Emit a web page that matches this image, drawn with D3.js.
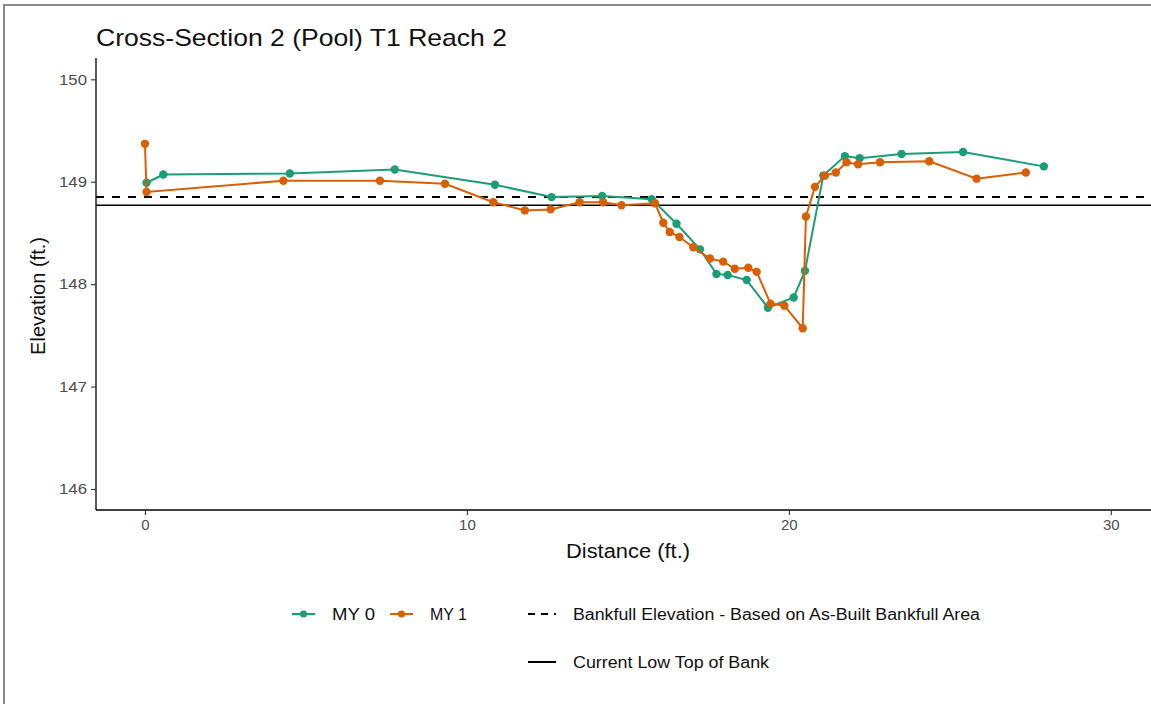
<!DOCTYPE html>
<html>
<head>
<meta charset="utf-8">
<script src="https://cdn.jsdelivr.net/npm/d3@7"></script>
<style>
  html, body { margin: 0; padding: 0; background: #fff; }
  svg { display: block; font-family: "Liberation Sans", Arial, Helvetica, sans-serif; }
</style>
</head>
<body>
<svg id="chart" width="1151" height="704"></svg>
<script>
// Survey data: station distance (ft) and elevation (ft)
const my0Distance = [0.05, 0.57, 4.5, 7.76, 10.87, 12.63, 14.2, 15.74, 16.51, 17.24, 17.75, 18.1, 18.69, 19.35, 20.15, 20.5, 21.07, 21.74, 22.2, 23.5, 25.41, 27.92];
const my0Elevation = [148.99, 149.07, 149.08, 149.12, 148.97, 148.85, 148.86, 148.83, 148.59, 148.34, 148.1, 148.09, 148.04, 147.77, 147.87, 148.13, 149.06, 149.25, 149.23, 149.27, 149.29, 149.15];

const my1Distance = [0, 0.05, 4.3, 7.3, 9.32, 10.82, 11.8, 12.6, 13.5, 14.23, 14.8, 15.84, 16.1, 16.3, 16.6, 17.03, 17.55, 17.96, 18.32, 18.74, 19.0, 19.43, 19.86, 20.43, 20.53, 20.81, 21.12, 21.46, 21.79, 22.15, 22.83, 24.36, 25.83, 27.36];
const my1Elevation = [149.37, 148.9, 149.01, 149.01, 148.98, 148.8, 148.72, 148.73, 148.8, 148.8, 148.77, 148.79, 148.6, 148.51, 148.46, 148.36, 148.25, 148.22, 148.15, 148.16, 148.12, 147.81, 147.79, 147.57, 148.66, 148.95, 149.06, 149.09, 149.19, 149.17, 149.19, 149.2, 149.03, 149.09];

const bankfullElevation = 148.85;
const lowTopOfBank = 148.77;

const seriesNames = ["MY 0", "MY 1"];
const seriesColors = ["#1b9e77", "#d95f02"];
const refLineNames = ["Bankfull Elevation - Based on As-Built Bankfull Area", "Current Low Top of Bank"];

const xTicks = [0, 10, 20, 30];
const yTicks = [146, 147, 148, 149, 150];
const xLimits = [-1.52, 31.9];
const yLimits = [145.795, 150.208];

const titleText = "Cross-Section 2 (Pool) T1 Reach 2";
const xTitle = "Distance (ft.)";
const yTitle = "Elevation (ft.)";

const series = [
  { name: seriesNames[0], color: seriesColors[0], pts: my0Distance.map((d, i) => ({ x: d, y: my0Elevation[i] })) },
  { name: seriesNames[1], color: seriesColors[1], pts: my1Distance.map((d, i) => ({ x: d, y: my1Elevation[i] })) }
];

const svg = d3.select("#chart");

// outer frame
svg.append("rect").attr("x", 4).attr("y", 5).attr("width", 1160).attr("height", 710)
  .attr("fill", "#fff").attr("stroke", "#8a8a8a").attr("stroke-width", 2);

const panel = { left: 96, top: 58, right: 1172, bottom: 510 };

const x = d3.scaleLinear().domain(xLimits).range([panel.left, panel.right]);
const y = d3.scaleLinear().domain(yLimits).range([panel.bottom, panel.top]);

// title
svg.append("text").attr("x", 96).attr("y", 46)
  .attr("font-size", 24).attr("textLength", 411).attr("lengthAdjust", "spacingAndGlyphs")
  .attr("fill", "#111").text(titleText);

// axes
const xAxis = svg.append("g").attr("transform", `translate(0,${panel.bottom})`)
  .call(d3.axisBottom(x).tickValues(xTicks).tickSize(5).tickPadding(4).tickFormat(d3.format("d")));
const yAxis = svg.append("g").attr("transform", `translate(${panel.left},0)`)
  .call(d3.axisLeft(y).tickValues(yTicks).tickSize(5).tickPadding(4).tickFormat(d3.format("d")));

[xAxis, yAxis].forEach(g => {
  g.select(".domain").attr("stroke", "#000").attr("stroke-width", 1.3);
  g.selectAll(".tick line").attr("stroke", "#333").attr("stroke-width", 1.1);
  g.selectAll(".tick text").attr("fill", "#4d4d4d").attr("font-size", 15)
    .attr("font-family", "Liberation Sans, Arial, sans-serif");
});
// stretch y-axis tick labels slightly wider
yAxis.selectAll(".tick text").attr("textLength", 28).attr("lengthAdjust", "spacingAndGlyphs");
// x-axis domain line extends along panel range
xAxis.select(".domain").attr("d", `M${panel.left},0H${panel.right}`);
yAxis.select(".domain").attr("d", `M0,${panel.top}V${panel.bottom}`);

// axis titles
svg.append("text").attr("x", 628).attr("y", 558).attr("text-anchor", "middle")
  .attr("font-size", 20).attr("textLength", 124).attr("lengthAdjust", "spacingAndGlyphs")
  .attr("fill", "#111").text(xTitle);
svg.append("text").attr("transform", `translate(45,${(237 + 355) / 2}) rotate(-90)`)
  .attr("text-anchor", "middle").attr("font-size", 20).attr("fill", "#111").text(yTitle);

// reference lines
const plot = svg.append("g");
plot.append("line").attr("x1", panel.left).attr("x2", panel.right)
  .attr("y1", y(bankfullElevation)).attr("y2", y(bankfullElevation))
  .attr("stroke", "#000").attr("stroke-width", 2).attr("stroke-dasharray", "8,8");
plot.append("line").attr("x1", panel.left).attr("x2", panel.right)
  .attr("y1", y(lowTopOfBank)).attr("y2", y(lowTopOfBank))
  .attr("stroke", "#000").attr("stroke-width", 1.6);

// series lines and points
const line = d3.line().x(d => x(d.x)).y(d => y(d.y));
series.forEach(s => {
  plot.append("path").datum(s.pts).attr("d", line)
    .attr("fill", "none").attr("stroke", s.color).attr("stroke-width", 2);
  plot.selectAll(null).data(s.pts).enter().append("circle")
    .attr("cx", d => x(d.x)).attr("cy", d => y(d.y)).attr("r", 4.2)
    .attr("fill", s.color);
});

// legend
const legend = svg.append("g");
const legendItems = [
  { x: 292, y: 614, color: seriesColors[0], label: seriesNames[0], lw: 43, pt: true },
  { x: 390, y: 614, color: seriesColors[1], label: seriesNames[1], lw: 37, pt: true }
];
legendItems.forEach(it => {
  legend.append("line").attr("x1", it.x).attr("x2", it.x + 23).attr("y1", it.y).attr("y2", it.y)
    .attr("stroke", it.color).attr("stroke-width", 2);
  legend.append("circle").attr("cx", it.x + 11.5).attr("cy", it.y).attr("r", 3.6).attr("fill", it.color);
  legend.append("text").attr("x", it.x + 40).attr("y", it.y + 6)
    .attr("font-size", 16).attr("textLength", it.lw).attr("lengthAdjust", "spacingAndGlyphs")
    .attr("fill", "#111").text(it.label);
});
const refItems = [
  { y: 614, dash: "7,6", label: refLineNames[0], lw: 407 },
  { y: 662, dash: null, label: refLineNames[1], lw: 196 }
];
refItems.forEach(it => {
  const l = legend.append("line").attr("x1", 528).attr("x2", 556).attr("y1", it.y).attr("y2", it.y)
    .attr("stroke", "#000").attr("stroke-width", 2);
  if (it.dash) l.attr("stroke-dasharray", it.dash);
  legend.append("text").attr("x", 573).attr("y", it.y + 6)
    .attr("font-size", 16).attr("textLength", it.lw).attr("lengthAdjust", "spacingAndGlyphs")
    .attr("fill", "#111").text(it.label);
});
</script>
</body>
</html>
